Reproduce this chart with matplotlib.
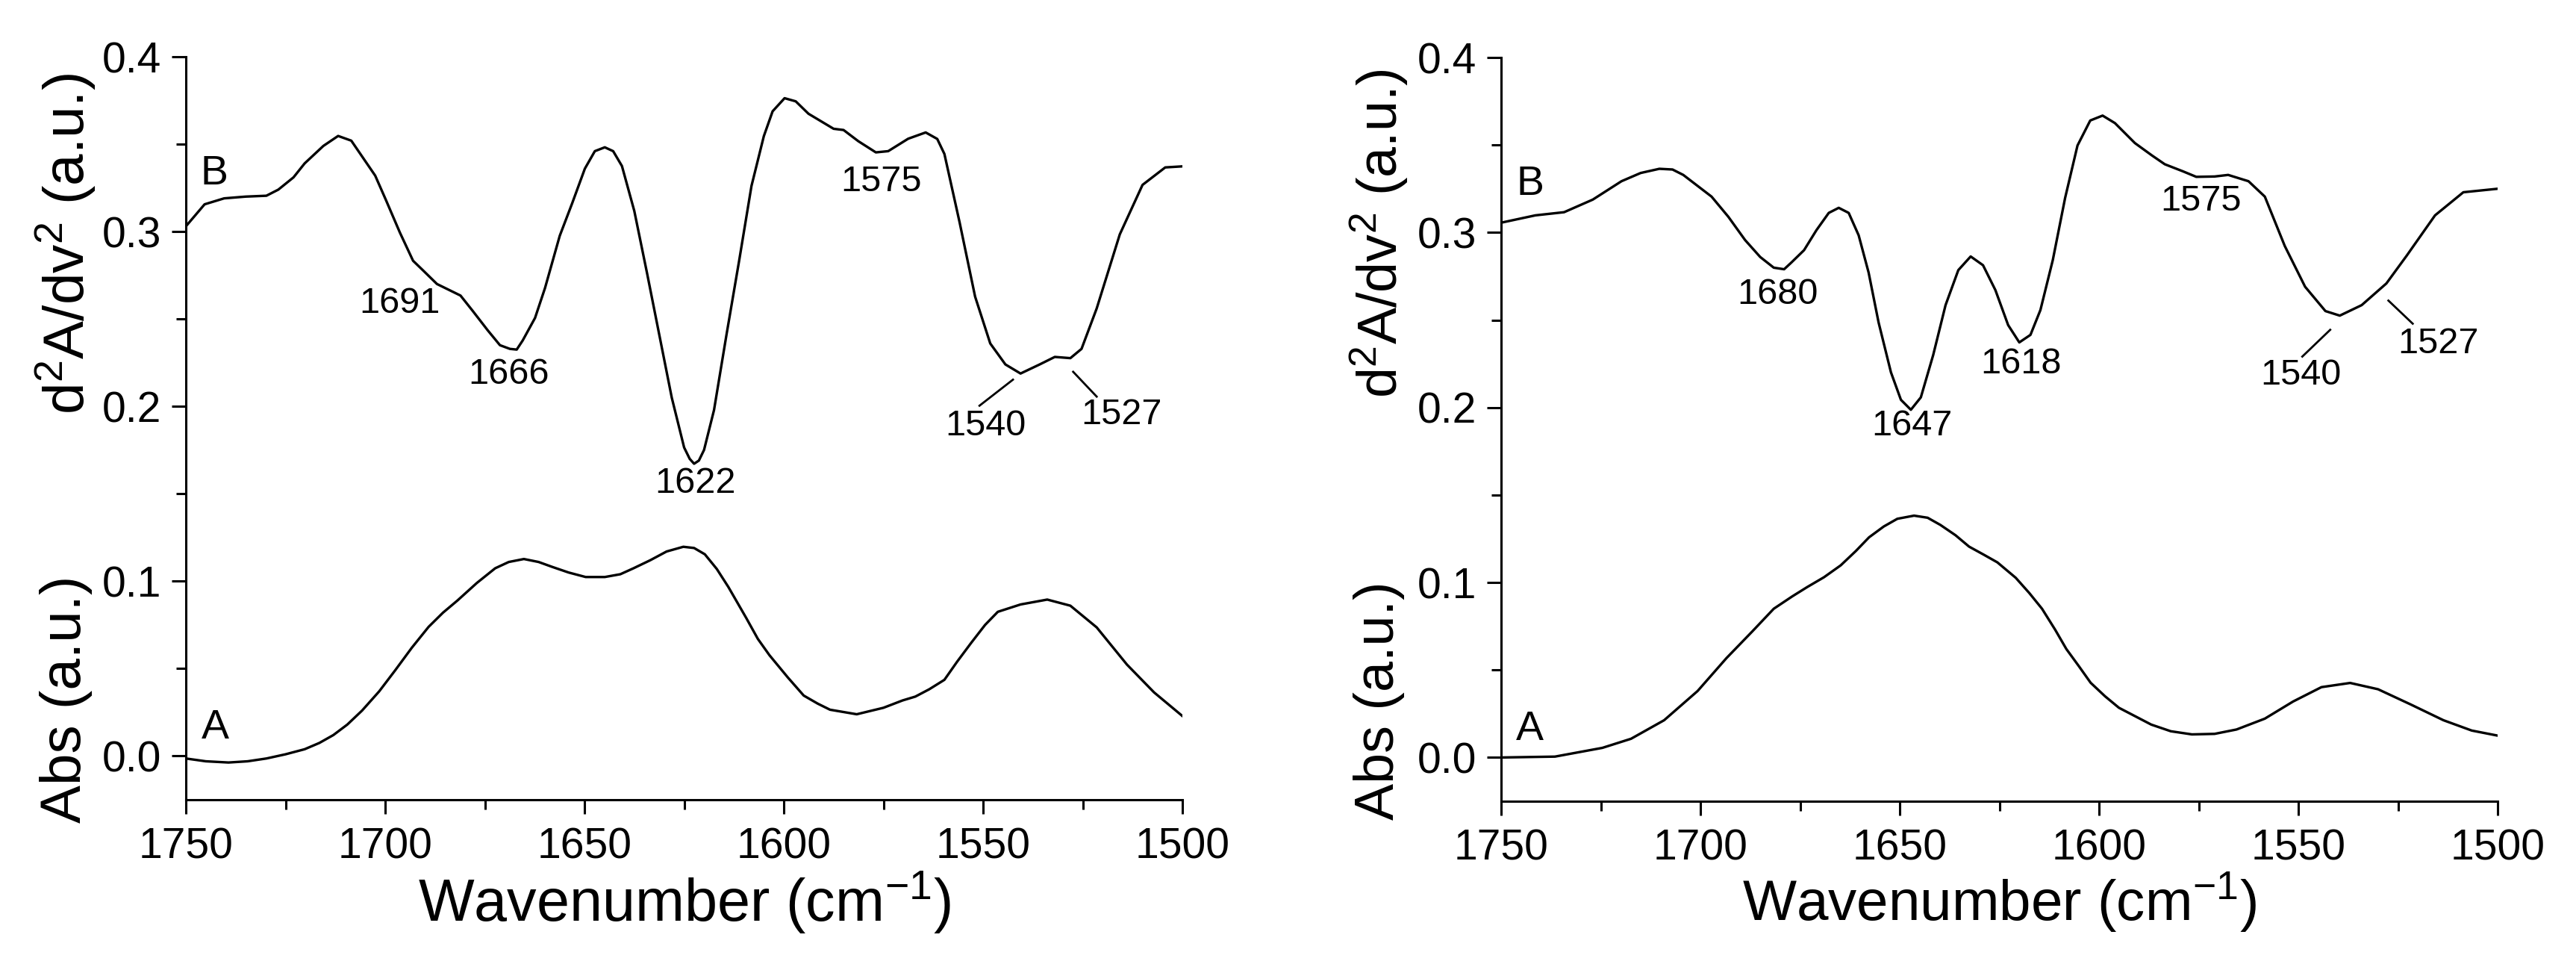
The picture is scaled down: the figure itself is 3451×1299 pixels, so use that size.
import matplotlib
matplotlib.use("Agg")
import matplotlib.pyplot as plt
from matplotlib.ticker import MultipleLocator

plt.rcParams['font.family'] = ['Liberation Sans', 'DejaVu Sans']
plt.rcParams['mathtext.fontset'] = 'custom'
plt.rcParams['mathtext.rm'] = 'Liberation Sans'
plt.rcParams['mathtext.it'] = 'Liberation Sans'
plt.rcParams['mathtext.bf'] = 'Liberation Sans'
plt.rcParams['mathtext.default'] = 'regular'

# ---------------- data: left panel ----------------
left_B_wn = [1750, 1745.3, 1740.4, 1735, 1729.8, 1726.8, 1723, 1720.2, 1715.5, 1711.8, 1708.5,
             1705.8, 1702.5, 1699.8, 1696.3, 1693, 1690.5, 1687, 1681.1, 1678.1, 1674.3, 1671.2,
             1668.7, 1667, 1665.5, 1662.4, 1659.9, 1656.2, 1653.1, 1649.9, 1647.4, 1644.9, 1642.8,
             1640.6, 1637.5, 1634.3, 1631.2, 1628.1, 1625.0, 1623.6, 1622.5, 1621.3, 1620.0, 1617.5,
             1614.4, 1611.2, 1608.1, 1605.0, 1602.8, 1599.8, 1597, 1593.8, 1587.5, 1585.0, 1581.3,
             1576.9, 1573.8, 1568.8, 1564.4, 1561.5, 1559.7, 1555.9, 1552, 1548.2, 1544.4, 1540.6,
             1535.8, 1532, 1528.1, 1525.3, 1521.5, 1515.7, 1510, 1504.3, 1500]
left_B_val = [0.303, 0.3156, 0.319, 0.320, 0.3205, 0.324, 0.331, 0.339, 0.349, 0.3547, 0.352,
              0.343, 0.332, 0.318, 0.2994, 0.2833, 0.2778, 0.270, 0.2634, 0.2548, 0.2436, 0.235,
              0.2329, 0.2325, 0.2377, 0.2506, 0.2677, 0.2976, 0.3161, 0.336, 0.346, 0.3482, 0.346,
              0.3375, 0.3118, 0.2762, 0.2406, 0.205, 0.1765, 0.170, 0.1672, 0.169, 0.1751, 0.1979,
              0.2406, 0.2833, 0.3261, 0.3546, 0.3688, 0.3763, 0.3745, 0.3674, 0.3588, 0.3581, 0.3517,
              0.3453, 0.346, 0.3531, 0.3567, 0.353, 0.3444, 0.3054, 0.2628, 0.236, 0.224, 0.2188,
              0.224, 0.2283, 0.2276, 0.2329, 0.256, 0.2984, 0.3267, 0.3367, 0.3373]

left_A_wn = [1750, 1745, 1739.3, 1734.5, 1729.8, 1725, 1720.2, 1716.5, 1713, 1709.5, 1705.8, 1701.5,
             1697.5, 1693.3, 1689.1, 1685.5, 1681.9, 1677, 1672.4, 1669, 1665.2, 1661.5, 1658.1,
             1654, 1649.7, 1644.9, 1641, 1637.7, 1633.5, 1629.4, 1625.2, 1622.5, 1619.8, 1616.8,
             1613.9, 1609.4, 1606.5, 1603.6, 1599, 1595, 1591.5, 1588.4, 1581.7, 1575, 1570.2,
             1567, 1563.5, 1559.7, 1556.5, 1553, 1549.5, 1546.3, 1540.6, 1533.9, 1528.1, 1521.5,
             1513.9, 1507.1, 1500]
left_A_val = [-0.0014, -0.003, -0.0037, -0.003, -0.0014, 0.001, 0.0039, 0.0075, 0.012, 0.018, 0.026,
              0.037, 0.049, 0.062, 0.0739, 0.082, 0.0889, 0.099, 0.1074, 0.111, 0.1127, 0.111, 0.1082,
              0.105, 0.1024, 0.1024, 0.104, 0.1074, 0.112, 0.117, 0.1197, 0.119, 0.1154, 0.107,
              0.0967, 0.0789, 0.067, 0.0577, 0.045, 0.0346, 0.030, 0.0265, 0.0239, 0.0276, 0.0318,
              0.034, 0.0382, 0.0436, 0.054, 0.0647, 0.075, 0.0825, 0.0867, 0.0895, 0.086, 0.0736,
              0.0523, 0.0364, 0.0229]

# ---------------- data: right panel ----------------
right_B_wn = [1750, 1741.4, 1734.2, 1727, 1719.8, 1715, 1710.3, 1707, 1704.3, 1697.2, 1693, 1688.8,
              1685, 1681.6, 1679, 1677.2, 1674.0, 1670.9, 1667.8, 1665.3, 1662.8, 1660.3, 1657.8,
              1655.3, 1652.2, 1649.7, 1647.2, 1644.7, 1641.6, 1638.5, 1635.3, 1632.2, 1629.1, 1626.0,
              1622.8, 1620.0, 1617.2, 1614.7, 1611.6, 1608.5, 1605.4, 1602.2, 1599.1, 1596.0, 1591.0,
              1586.7, 1583.5, 1579, 1575.6, 1571, 1567.6, 1562.5, 1558.4, 1553.4, 1548.3, 1543.2,
              1539.6, 1534.1, 1527.9, 1522.8, 1515.7, 1508.6, 1500]
right_B_val = [0.3056, 0.3098, 0.3116, 0.3188, 0.3293, 0.334, 0.3364, 0.336, 0.3329, 0.3205, 0.309,
               0.2957, 0.286, 0.2799, 0.279, 0.2828, 0.2899, 0.3013, 0.3112, 0.3141, 0.3112, 0.2984,
               0.2771, 0.2486, 0.2201, 0.2044, 0.1987, 0.2058, 0.230, 0.2585, 0.2785, 0.2863, 0.2813,
               0.2671, 0.2471, 0.2372, 0.2415, 0.2557, 0.2842, 0.3198, 0.3497, 0.364, 0.3668, 0.3625,
               0.3511, 0.344, 0.339, 0.335, 0.3318, 0.332, 0.3329, 0.3293, 0.3205, 0.2923, 0.269,
               0.2551, 0.2525, 0.2585, 0.2709, 0.2868, 0.3098, 0.323, 0.325]

right_A_wn = [1750, 1736.5, 1724.6, 1717.4, 1709.1, 1700.7, 1693.5, 1687, 1681.6, 1677, 1673.2, 1669,
              1664.8, 1661, 1657.7, 1654, 1650.6, 1646.4, 1643, 1639.8, 1636, 1632.6, 1629, 1625.5,
              1620.9, 1617.5, 1614.3, 1611, 1608.2, 1605, 1602.1, 1598.5, 1595, 1586.9, 1582, 1576.7,
              1571, 1565.5, 1558.4, 1551.3, 1544.2, 1537, 1530, 1521.8, 1513.6, 1506.5, 1500]
right_A_val = [0.0, 0.0005, 0.0055, 0.0107, 0.0213, 0.038, 0.0567, 0.072, 0.085, 0.092, 0.0974, 0.103,
               0.1098, 0.118, 0.1258, 0.132, 0.1364, 0.1382, 0.137, 0.1329, 0.127, 0.1205, 0.116,
               0.1115, 0.1027, 0.094, 0.085, 0.073, 0.062, 0.052, 0.0427, 0.035, 0.0284, 0.0188,
               0.015, 0.0132, 0.0135, 0.016, 0.0222, 0.032, 0.0402, 0.0426, 0.039, 0.0303, 0.0213,
               0.0154, 0.0125]

# ---------------- annotations ----------------
left_labels = [("B", 1742.9, 0.333, 40), ("A", 1742.6, 0.0162, 40),
               ("1691", 1696.4, 0.259, 35), ("1666", 1669.1, 0.2183, 35),
               ("1622", 1622.2, 0.156, 35), ("1575", 1575.5, 0.3285, 35),
               ("1540", 1549.4, 0.1886, 35), ("1527", 1515.3, 0.195, 35)]
left_leaders = [((1550.9, 1542.5), (0.2004, 0.2153)), ((1527.4, 1521.5), (0.2198, 0.2056))]

right_labels = [("B", 1742.8, 0.3276, 40), ("A", 1742.8, 0.016, 40),
                ("1680", 1680.7, 0.2645, 35), ("1647", 1647.0, 0.1895, 35),
                ("1618", 1619.6, 0.2249, 35), ("1575", 1574.5, 0.3177, 35),
                ("1540", 1549.3, 0.2185, 35), ("1527", 1514.9, 0.2363, 35)]
right_leaders = [((1549.0, 1542.0), (0.2291, 0.2444)), ((1527.4, 1521.3), (0.2611, 0.2479))]

W, H = 3451, 1299
fig = plt.figure(figsize=(W / 100, H / 100), dpi=100)


def style(ax, tick_size):
    ax.set_xlim(1750, 1500)
    ax.set_ylim(-0.025, 0.4)
    ax.spines['top'].set_visible(False)
    ax.spines['right'].set_visible(False)
    for s in ('left', 'bottom'):
        ax.spines[s].set_linewidth(2.2)
    ax.xaxis.set_major_locator(MultipleLocator(50))
    ax.xaxis.set_minor_locator(MultipleLocator(25))
    ax.yaxis.set_major_locator(MultipleLocator(0.1))
    ax.yaxis.set_minor_locator(MultipleLocator(0.05))
    ax.set_yticks([0.0, 0.1, 0.2, 0.3, 0.4])
    ax.set_yticklabels(["0.0", "0.1", "0.2", "0.3", "0.4"])
    ax.tick_params(which='major', direction='out', length=14, width=2.2, labelsize=tick_size)
    ax.tick_params(which='minor', direction='out', length=9.5, width=2.2)
    ax.tick_params(axis='x', which='major', pad=12)
    ax.tick_params(axis='y', which='major', pad=10)


def draw(ax, Bwn, Bv, Awn, Av, labels, leaders):
    ax.plot(Bwn, Bv, color='black', lw=2.4, solid_joinstyle='round')
    ax.plot(Awn, Av, color='black', lw=2.4, solid_joinstyle='round')
    for t, x, y, fs in labels:
        ax.text(x, y, t, fontsize=fs, ha='center', va='center')
    for xs, ys in leaders:
        ax.plot(xs, ys, color='black', lw=2.0)


axL = fig.add_axes([249 / W, 1 - 1071 / H, (1584 - 249) / W, (1071 - 76) / H])
style(axL, 41)
draw(axL, left_B_wn, left_B_val, left_A_wn, left_A_val, left_labels, left_leaders)
axL.set_xlabel(r"Wavenumber (cm$^{-1}$)", fontsize=57, labelpad=2)

axR = fig.add_axes([2011 / W, 1 - 1073 / H, (3346 - 2011) / W, (1073 - 77) / H])
style(axR, 41)
draw(axR, right_B_wn, right_B_val, right_A_wn, right_A_val, right_labels, right_leaders)
axR.set_xlabel(r"Wavenumber (cm$^{-1}$)", fontsize=55, labelpad=2)

# stacked y-axis titles
fig.text(88 / W, 1 - 327 / H, r"d$^2$A/dv$^2$ (a.u.)", rotation=90, fontsize=55,
         ha='center', va='center')
fig.text(88 / W, 1 - 936 / H, "Abs (a.u.)", rotation=90, fontsize=55, ha='center', va='center')
fig.text(1848 / W, 1 - 313 / H, r"d$^2$A/dv$^2$ (a.u.)", rotation=90, fontsize=53,
         ha='center', va='center')
fig.text(1848 / W, 1 - 938 / H, "Abs (a.u.)", rotation=90, fontsize=53, ha='center', va='center')

fig.savefig("out.png", dpi=100, facecolor='white')
